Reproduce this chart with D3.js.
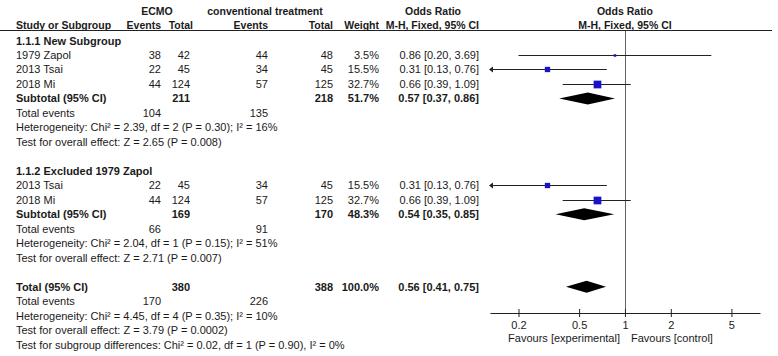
<!DOCTYPE html>
<html lang="en">
<head>
    <meta charset="UTF-8">
    <script src="https://d3js.org/d3.v7.min.js"></script>
    <title>Forest plot</title>
    <style>
        body { margin: 0; background: #fff; }
        text {
            font-family: 'Liberation Sans', Arial, sans-serif;
            font-size: 11px;
            fill: #1a1a1a;
        }
        .b { font-weight: bold; }
        .h { font-weight: bold; font-size: 10.5px; }
    </style>
</head>
<body>
<script>
    const width = 778, height = 356;

    // study rows
    const studyGroup = [0, 0, 0, 1, 1];
    const studyName = ["1979 Zapol", "2013 Tsai", "2018 Mi", "2013 Tsai", "2018 Mi"];
    const ecmoEvents = [38, 22, 44, 22, 44];
    const ecmoTotal = [42, 45, 124, 45, 124];
    const convEvents = [44, 34, 57, 34, 57];
    const convTotal = [48, 45, 125, 45, 125];
    const weight = [3.5, 15.5, 32.7, 15.5, 32.7];
    const oddsRatio = [0.86, 0.31, 0.66, 0.31, 0.66];
    const ciLow = [0.20, 0.13, 0.39, 0.13, 0.39];
    const ciHigh = [3.69, 0.76, 1.09, 0.76, 1.09];

    // subgroups
    const groupName = ["1.1.1 New Subgroup", "1.1.2 Excluded 1979 Zapol"];
    const subEcmoTotal = [211, 169];
    const subConvTotal = [218, 170];
    const subWeight = [51.7, 48.3];
    const subOR = [0.57, 0.54];
    const subLow = [0.37, 0.35];
    const subHigh = [0.86, 0.85];
    const subEcmoEvents = [104, 66];
    const subConvEvents = [135, 91];
    const subHet = ["Heterogeneity: Chi² = 2.39, df = 2 (P = 0.30); I² = 16%",
                    "Heterogeneity: Chi² = 2.04, df = 1 (P = 0.15); I² = 51%"];
    const subEffect = ["Test for overall effect: Z = 2.65 (P = 0.008)",
                       "Test for overall effect: Z = 2.71 (P = 0.007)"];

    // overall
    const totalNums = [380, 388, 100.0, 0.56, 0.41, 0.75]; // ecmo total, conv total, weight, OR, low, high
    const totalEvents = [170, 226];
    const totalNotes = ["Heterogeneity: Chi² = 4.45, df = 4 (P = 0.35); I² = 10%",
                        "Test for overall effect: Z = 3.79 (P = 0.0002)",
                        "Test for subgroup differences: Chi² = 0.02, df = 1 (P = 0.90), I² = 0%"];

    const axisTicks = [0.2, 0.5, 1, 2, 5];

    // column anchors
    const col = {name: 16, ecmoEv: 161, ecmoTot: 190, convEv: 268, convTot: 333, weight: 379, ci: 479};

    const svg = d3.select("body").append("svg")
            .attr("width", width).attr("height", height);

    const x = d3.scaleLog().domain([0.13, 7.7]).range([490, 760]);
    const rowY = i => 40.5 + i * 14.48;
    const boxSize = d3.scaleSqrt().domain([0, 100]).range([0, 13.5]);

    const fmt2 = d3.format(".2f");
    const ciText = (o, l, h) => `${fmt2(o)} [${fmt2(l)}, ${fmt2(h)}]`;

    function txt(xp, y, s, anchor, cls) {
        svg.append("text")
            .attr("x", xp).attr("y", y + 4)
            .attr("text-anchor", anchor || "start")
            .attr("class", cls === true ? "b" : (cls || null))
            .text(s);
    }

    // headers
    txt(157, 11, "ECMO", "middle", "h");
    txt(265, 11, "conventional treatment", "middle", "h");
    txt(433, 11, "Odds Ratio", "middle", "h");
    txt(x(1), 11, "Odds Ratio", "middle", "h");
    txt(col.name, 24.5, "Study or Subgroup", "start", "h");
    txt(col.ecmoEv, 24.5, "Events", "end", "h");
    txt(col.ecmoTot + 3, 24.5, "Total", "end", "h");
    txt(col.convEv, 24.5, "Events", "end", "h");
    txt(col.convTot, 24.5, "Total", "end", "h");
    txt(col.weight, 24.5, "Weight", "end", "h");
    txt(col.ci, 24.5, "M-H, Fixed, 95% CI", "end", "h");
    txt(x(1), 24.5, "M-H, Fixed, 95% CI", "middle", "h");

    svg.append("line")
        .attr("x1", 0).attr("x2", 772).attr("y1", 30.5).attr("y2", 30.5)
        .attr("stroke", "#222").attr("stroke-width", 1);

    // null line
    svg.append("line")
        .attr("x1", Math.round(x(1)) + 0.5).attr("x2", Math.round(x(1)) + 0.5)
        .attr("y1", 31).attr("y2", 313)
        .attr("stroke", "#666").attr("stroke-width", 1);

    function diamond(y, o, l, h) {
        const hh = 6;
        svg.append("path")
            .attr("d", `M${x(l)},${y} L${x(o)},${y - hh} L${x(h)},${y} L${x(o)},${y + hh} Z`)
            .attr("fill", "#000");
    }

    let r = 0;
    groupName.forEach((g, gi) => {
        txt(col.name, rowY(r++), g, "start", true);
        studyName.forEach((s, i) => {
            if (studyGroup[i] !== gi) return;
            const y = rowY(r++);
            txt(col.name, y, s);
            txt(col.ecmoEv, y, ecmoEvents[i], "end");
            txt(col.ecmoTot, y, ecmoTotal[i], "end");
            txt(col.convEv, y, convEvents[i], "end");
            txt(col.convTot, y, convTotal[i], "end");
            txt(col.weight, y, weight[i].toFixed(1) + "%", "end");
            txt(col.ci, y, ciText(oddsRatio[i], ciLow[i], ciHigh[i]), "end");

            const lo = Math.max(ciLow[i], x.domain()[0]);
            const yl = Math.round(y) + 0.5;
            svg.append("line")
                .attr("x1", x(lo)).attr("x2", x(ciHigh[i]))
                .attr("y1", yl).attr("y2", yl)
                .attr("stroke", "#222");
            if (ciLow[i] <= x.domain()[0]) {
                const ax = x(lo) - 1;
                svg.append("path")
                    .attr("d", `M${ax},${yl} L${ax + 4},${yl - 3} L${ax + 4},${yl + 3} Z`)
                    .attr("fill", "#222");
            }
            const s2 = boxSize(weight[i]);
            svg.append("rect")
                .attr("x", x(oddsRatio[i]) - s2 / 2).attr("y", yl - s2 / 2)
                .attr("width", s2).attr("height", s2)
                .attr("fill", "#1a12c8");
        });
        let y = rowY(r++);
        txt(col.name, y, "Subtotal (95% CI)", "start", true);
        txt(col.ecmoTot, y, subEcmoTotal[gi], "end", true);
        txt(col.convTot, y, subConvTotal[gi], "end", true);
        txt(col.weight, y, subWeight[gi].toFixed(1) + "%", "end", true);
        txt(col.ci, y, ciText(subOR[gi], subLow[gi], subHigh[gi]), "end", true);
        diamond(y, subOR[gi], subLow[gi], subHigh[gi]);
        y = rowY(r++);
        txt(col.name, y, "Total events");
        txt(col.ecmoEv, y, subEcmoEvents[gi], "end");
        txt(col.convEv, y, subConvEvents[gi], "end");
        txt(col.name, rowY(r++), subHet[gi]);
        txt(col.name, rowY(r++), subEffect[gi]);
        r++;
    });

    let y = rowY(r++);
    txt(col.name, y, "Total (95% CI)", "start", true);
    txt(col.ecmoTot, y, totalNums[0], "end", true);
    txt(col.convTot, y, totalNums[1], "end", true);
    txt(col.weight, y, totalNums[2].toFixed(1) + "%", "end", true);
    txt(col.ci, y, ciText(totalNums[3], totalNums[4], totalNums[5]), "end", true);
    diamond(y, totalNums[3], totalNums[4], totalNums[5]);
    y = rowY(r++);
    txt(col.name, y, "Total events");
    txt(col.ecmoEv, y, totalEvents[0], "end");
    txt(col.convEv, y, totalEvents[1], "end");
    totalNotes.forEach(n => txt(col.name, rowY(r++), n));

    // axis
    const axis = svg.append("g")
        .attr("transform", "translate(0,313)")
        .call(d3.axisBottom(x).tickValues(axisTicks).tickFormat(d3.format("")).tickSize(4).tickSizeOuter(0));
    axis.select(".domain").attr("stroke", "#222");
    axis.selectAll(".tick line").attr("stroke", "#222").attr("y1", -4).attr("y2", 4);
    axis.selectAll(".tick text")
        .attr("y", 8).attr("dy", "0.71em")
        .style("font-family", "'Liberation Sans', Arial, sans-serif")
        .style("font-size", "11px").attr("fill", "#1a1a1a");

    txt(620, 338, "Favours [experimental]", "end");
    txt(631, 338, "Favours [control]", "start");
</script>
</body>
</html>
